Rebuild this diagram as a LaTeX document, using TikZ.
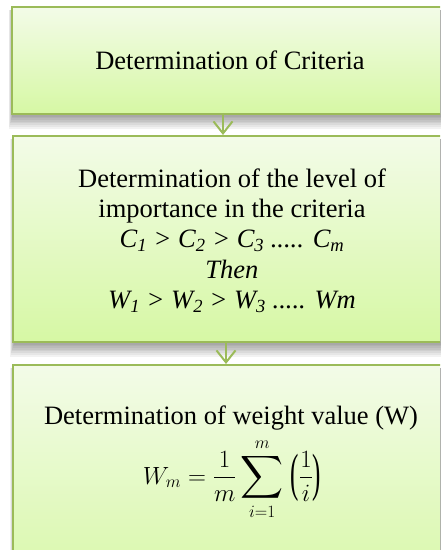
\documentclass[tikz,border=0pt]{standalone}
\usepackage{fontspec}
\setmainfont{Liberation Serif}
\usepackage{amsmath}
\usepackage{graphicx}
\usetikzlibrary{arrows.meta,backgrounds}
\definecolor{boxline}{RGB}{155,187,89}
\definecolor{boxtop}{RGB}{243,251,232}
\definecolor{boxbot}{RGB}{214,248,164}
\tikzset{
  flowbox/.style={draw=boxline, line width=2pt, top color=boxtop, bottom color=boxbot,
    rectangle, inner sep=0pt, anchor=north west, minimum width=450pt},
  boxtext/.style={font=\fontsize{26.5}{30.3}\selectfont, align=center, inner sep=0pt},
  mathtext/.style={font=\fontsize{25}{30}\selectfont, inner sep=0pt},
  flowarrow/.style={draw=boxline, line width=2pt, -{Straight Barb[length=12pt,width=19pt]}},
  shadowlayer/.style={fill=black, opacity=0.05}
}
\newcommand{\bigsumop}{\mathop{\vcenter{\hbox{\scalebox{1.2}{$\displaystyle\sum$}}}}\limits}
\newcommand{\tallparen}[1]{\vcenter{\hbox{\scalebox{1}[2.1]{#1}}}}
\begin{document}
\begin{tikzpicture}[x=1pt,y=1pt]
\useasboundingbox (0,0) rectangle (440,550);
\clip (0,0) rectangle (440,550);
% boxes
\node[flowbox, minimum height=107pt] (b1) at (10.5,544) {};
\node[flowbox, minimum height=206pt] (b2) at (12,415) {};
\node[flowbox, minimum height=240pt] (b3) at (12,186) {};
% shadows
\begin{scope}[on background layer]
  \foreach \b in {b1,b2,b3}{
    \foreach \k in {1,...,8}{
      \fill[shadowlayer] ([xshift={-\k*0.5pt+2pt}, yshift=-4pt]\b.north west)
        rectangle ([xshift=4pt, yshift={-\k*1.7pt}]\b.south east);
    }
  }
\end{scope}
% texts
\node[boxtext, anchor=base] (t1) at (230,480) {Determination of Criteria};
\node[boxtext, anchor=north] (t2) at (232,381.5) {Determination of the level of\\
  importance in the criteria\\
  \itshape C\textsubscript{1} > C\textsubscript{2} > C\textsubscript{3} ..... C\textsubscript{m}\\
  \itshape Then\\
  \itshape W\textsubscript{1} > W\textsubscript{2} > W\textsubscript{3} ..... Wm};
\node[boxtext, anchor=base] (t3) at (231,125) {Determination of weight value (W)};
\node[mathtext, anchor=base] (f3) at (232,66) {$\displaystyle W_m=\frac{1}{m}\bigsumop_{i=1}^{m}\;\mathopen{\tallparen{(}}\frac{1}{i}\mathclose{\tallparen{)}}$};
% connectors
\coordinate (a1) at (223,437);
\coordinate (a2) at (226,209);
\draw[flowarrow] (a1) -- (a1 |- b2.north);
\draw[flowarrow] (a2) -- (a2 |- b3.north);
\end{tikzpicture}
\end{document}
